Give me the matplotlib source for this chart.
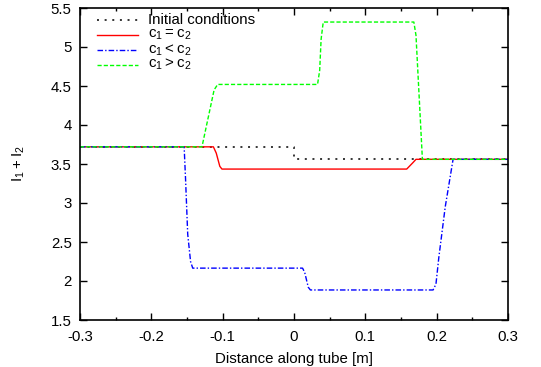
import matplotlib
matplotlib.use('Agg')
import matplotlib.pyplot as plt
from matplotlib.ticker import MultipleLocator, FuncFormatter

plt.rcParams['font.family'] = ['Liberation Sans', 'DejaVu Sans']
plt.rcParams['mathtext.fontset'] = 'custom'
plt.rcParams['mathtext.rm'] = 'Liberation Sans'
plt.rcParams['mathtext.default'] = 'regular'
plt.rcParams['axes.unicode_minus'] = False

# profile breakpoints (position along tube, summed intensity)
init_x = [-0.3, 0.0, 0.0, 0.3]
init_y = [3.72, 3.72, 3.56, 3.56]

equal_x = [-0.3, -0.113, -0.109, -0.104, -0.101, 0.158, 0.167, 0.171, 0.3]
equal_y = [3.72, 3.72, 3.64, 3.47, 3.435, 3.435, 3.52, 3.56, 3.56]

less_x = [-0.3, -0.154, -0.152, -0.149, -0.145, -0.142, 0.012, 0.015, 0.020, 0.023,
          0.195, 0.199, 0.203, 0.212, 0.223, 0.3]
less_y = [3.72, 3.72, 3.3, 2.6, 2.25, 2.165, 2.165, 2.11, 1.92, 1.885,
          1.885, 1.96, 2.3, 2.95, 3.56, 3.56]

greater_x = [-0.3, -0.129, -0.126, -0.112, -0.107, 0.033, 0.036, 0.038, 0.041,
             0.168, 0.171, 0.180, 0.3]
greater_y = [3.72, 3.72, 3.85, 4.45, 4.52, 4.52, 4.7, 5.1, 5.32,
             5.32, 5.15, 3.56, 3.56]

labels = ['Initial conditions', '$c_1 = c_2$', '$c_1 < c_2$', '$c_1 > c_2$']
colors = ['black', '#ff0000', '#0000ff', '#00ff00']
styles = [(0, (1.3, 3.7)), '-', (0, (4, 1.5, 1, 1.5)), (0, (3, 1.5))]
widths = [1.1, 1.0, 1.0, 1.0]

fig = plt.figure(figsize=(5.41, 3.67), dpi=100)
ax = fig.add_axes([80 / 541, 47 / 367, 428 / 541, 312 / 367])

series = [(init_x, init_y), (equal_x, equal_y), (less_x, less_y), (greater_x, greater_y)]
for (xs, ys), c, ls, lw in zip(series, colors, styles, widths):
    ax.plot(xs, ys, color=c, ls=ls, lw=lw)

# gnuplot-style key: tight rows, sample line then label
key_top, key_step = 0.961, 0.0475
for i, (lab, c, ls, lw) in enumerate(zip(labels, colors, styles, widths)):
    ky = key_top - i * key_step
    ax.plot([0.040, 0.136], [ky, ky], transform=ax.transAxes, color=c, ls=ls, lw=lw,
            clip_on=False)
    ax.text(0.159, ky, lab, transform=ax.transAxes, va='center', ha='left', fontsize=10.8)

ax.set_xlim(-0.3, 0.3)
ax.set_ylim(1.5, 5.5)
ax.xaxis.set_major_locator(MultipleLocator(0.1))
ax.xaxis.set_minor_locator(MultipleLocator(0.05))
ax.yaxis.set_major_locator(MultipleLocator(0.5))
fmt = FuncFormatter(lambda v, p: '%g' % round(v, 3))
ax.xaxis.set_major_formatter(fmt)
ax.yaxis.set_major_formatter(fmt)
ax.tick_params(which='both', direction='in', top=True, right=True, labelsize=10.8, width=1.0)
ax.tick_params(axis='x', which='major', length=5, pad=7)
ax.tick_params(axis='y', which='major', length=5, pad=6)
ax.tick_params(which='minor', length=2.5)
for s in ax.spines.values():
    s.set_linewidth(1.2)

ax.set_xlabel('Distance along tube [m]', fontsize=10.8, labelpad=6)
ax.set_ylabel('$I_1 + I_2$', fontsize=10.8, labelpad=17)

fig.savefig('out.png', dpi=100)
